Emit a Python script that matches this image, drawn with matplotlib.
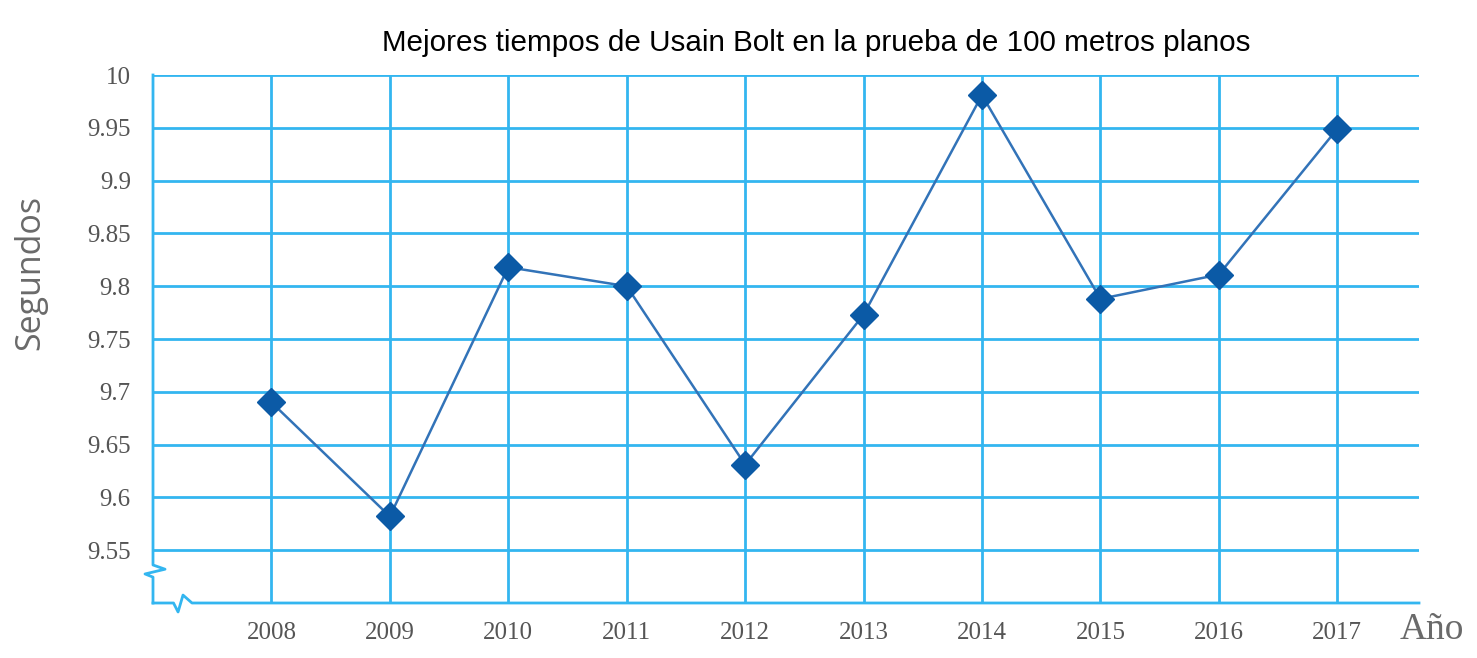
import matplotlib
matplotlib.use("Agg")
import matplotlib.pyplot as plt
from matplotlib.ticker import FixedLocator

years = [2008, 2009, 2010, 2011, 2012, 2013, 2014, 2015, 2016, 2017]
times = [9.69, 9.582, 9.818, 9.80, 9.631, 9.773, 9.981, 9.788, 9.811, 9.949]
y_ticks = [9.55, 9.6, 9.65, 9.7, 9.75, 9.8, 9.85, 9.9, 9.95, 10.0]
y_tick_labels = ["9.55", "9.6", "9.65", "9.7", "9.75", "9.8", "9.85", "9.9", "9.95", "10"]
title = "Mejores tiempos de Usain Bolt en la prueba de 100 metros planos"

grid_c = "#33b6f0"
line_c = "#3273b8"
mark_c = "#0b5aa6"
text_c = "#555555"

fig = plt.figure(figsize=(14.77, 6.58), dpi=100)
ax = fig.add_axes([153/1477, 1 - 603/658, (1419-153)/1477, (603-75)/658])
ax.set_xlim(2007, 2017.69)
ax.set_ylim(9.5, 10.0)

for s in ax.spines.values():
    s.set_visible(False)

# grid
for y in y_ticks:
    ax.axhline(y, color=grid_c, lw=2, zorder=1)
for x in years:
    ax.axvline(x, color=grid_c, lw=2, zorder=1)

# left spine with break
t = ax.transAxes
ax.plot([0, 0, 0.0095, -0.0063, 0, 0], [1, 0.072, 0.064, 0.055, 0.049, 0],
        color=grid_c, lw=2, transform=t, clip_on=False, zorder=1)
# bottom spine with break
ax.plot([0, 0.0162, 0.0198, 0.0237, 0.0308, 1.0], [0, 0, -0.017, 0.015, 0, 0],
        color=grid_c, lw=2, transform=t, clip_on=False, zorder=1)

ax.plot(years, times, color=line_c, lw=1.8, zorder=3)
ax.plot(years, times, linestyle="none", marker="D", markersize=14,
        color=mark_c, zorder=4)

ax.yaxis.set_major_locator(FixedLocator(y_ticks))
ax.set_yticklabels(y_tick_labels)
ax.xaxis.set_major_locator(FixedLocator(years))
ax.set_xticklabels([str(y) for y in years])
ax.tick_params(length=0, colors=text_c, labelsize=18)
ax.tick_params(axis="y", pad=16)
ax.tick_params(axis="x", pad=14)
for lab in ax.get_xticklabels() + ax.get_yticklabels():
    lab.set_fontfamily("Liberation Serif")
    lab.set_fontweight("medium")

fig.text(816/1477, 1 - 43/658, title, ha="center", va="center",
         fontsize=21.3, family="Liberation Sans", color="black")
fig.text(30/1477, 1 - 272/658, "Segundos", rotation=90, ha="center", va="center",
         fontsize=24.5, family="Open Sans", color="#6a6a6a")
fig.text(1432/1477, 1 - 630/658, "Año", ha="center", va="center",
         fontsize=27, family="Liberation Serif", color="#6a6a6a")

fig.savefig("out.png", dpi=100)
